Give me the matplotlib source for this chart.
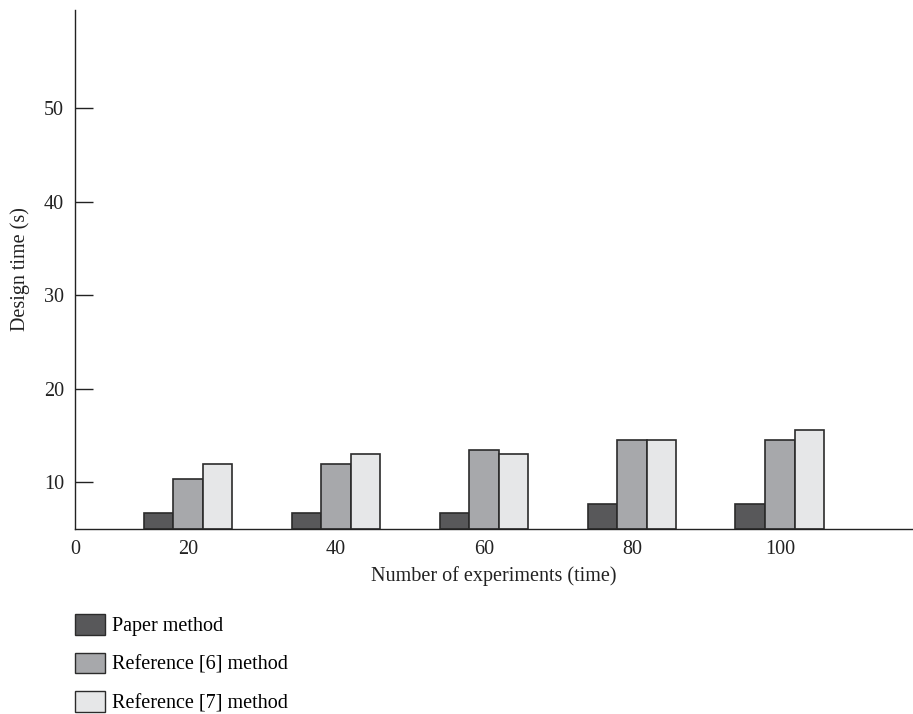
import numpy as np
import matplotlib.pyplot as plt
from matplotlib.patches import Patch

# data
experiments = ["20", "40", "60", "80", "100"]
paper_method = [6.7, 6.7, 6.7, 7.7, 7.7]
ref6_method = [10.3, 11.9, 13.5, 14.5, 14.5]
ref7_method = [11.9, 13.0, 13.0, 14.5, 15.6]
series_names = ["Paper method", "Reference [6] method", "Reference [7] method"]
y_ticks = [10, 20, 30, 40, 50]

colors = ["#58585a", "#a7a8ab", "#e6e7e8"]
edge = "#2b2b2b"

plt.rcParams['font.family'] = ['Liberation Serif', 'DejaVu Serif']
plt.rcParams['font.size'] = 14.5

fig = plt.figure(figsize=(9.13, 7.14), dpi=100)
axe = fig.add_axes([75/913, 1-529/714, 1-75/913, (529-10)/714])

x = np.arange(1, len(experiments)+1)
w = 0.2
series = [paper_method, ref6_method, ref7_method]
ymin = 5
for k, vals in enumerate(series):
  axe.bar(x + (k-1)*w, np.array(vals)-ymin, w, bottom=ymin,
          color=colors[k], edgecolor=edge, linewidth=1.2, zorder=2)

xleft = 0.236
axe.set_xlim(xleft, 5.9)
axe.set_ylim(ymin, 60.5)

axe.spines['top'].set_visible(False)
axe.spines['right'].set_visible(False)
for s in ['left', 'bottom']:
  axe.spines[s].set_linewidth(1.0)
  axe.spines[s].set_color('#222222')

axe.set_yticks(y_ticks)
axe.tick_params(axis='y', direction='in', length=13, width=1.0, pad=8, colors='#222222')
axe.set_xticks([xleft] + list(x))
axe.set_xticklabels(["0"] + experiments)
axe.tick_params(axis='x', length=0, pad=8, colors='#222222')

axe.set_xlabel("Number of experiments (time)", labelpad=5, color='#222222')
axe.set_ylabel("Design time (s)", labelpad=10, color='#222222')

handles = [Patch(facecolor=colors[k], edgecolor=edge, linewidth=1.0) for k in range(3)]
fig.legend(handles, series_names, loc='upper left', bbox_to_anchor=(75/913, 1-614/714),
           frameon=False, handlelength=1.49, handleheight=1.19,
           handletextpad=0.35, labelspacing=0.82, borderaxespad=0, borderpad=0)

fig.savefig("out.png", dpi=100)
